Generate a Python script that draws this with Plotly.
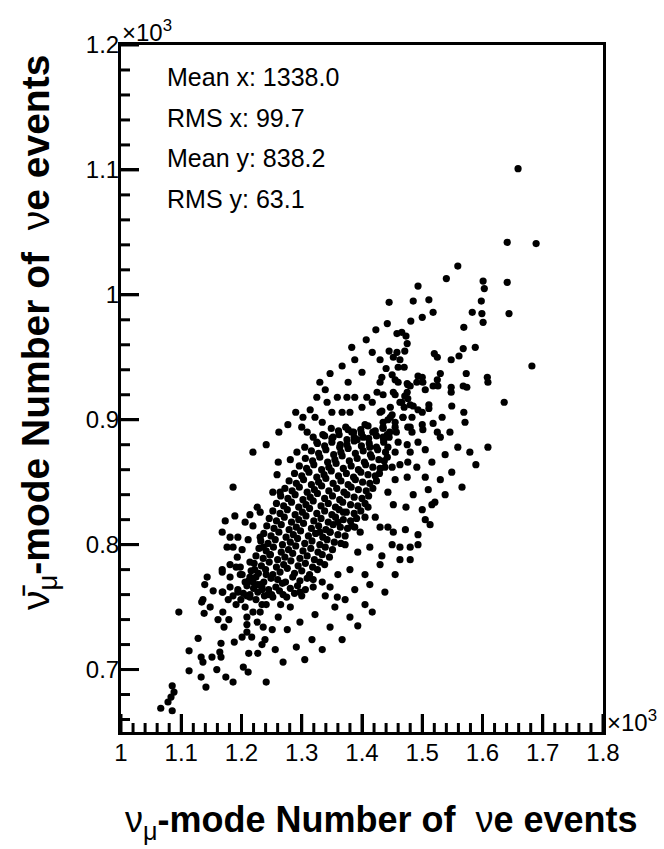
import plotly.graph_objects as go

# ---- event counts (x: nu_mu-mode, y: anti-nu_mu-mode), one tuple per toy experiment ----
core_pts = [
    (1203,761),(1214,758),(1227,762),(1238,759),(1250,760),(1263,763),(1275,758),(1288,761),(1300,759),
    (1209,767),(1220,765),(1232,768),(1245,764),(1257,766),(1268,769),(1281,765),(1293,767),(1306,764),
    (1212,771),(1224,774),(1237,770),(1249,773),(1260,772),(1273,770),(1285,774),(1297,771),(1309,773),(1319,772),
    (1216,779),(1228,777),(1240,780),(1252,776),(1264,778),(1276,781),(1288,777),(1300,779),(1313,776),(1326,780),
    (1221,785),(1233,783),(1246,786),(1258,782),(1270,784),(1282,787),(1294,783),(1306,785),(1318,782),(1330,786),(1338,784),
    (1224,791),(1236,789),(1248,792),(1260,788),(1272,790),(1285,793),(1297,789),(1309,791),(1321,788),(1334,792),(1346,790),
    (1229,797),(1241,795),(1253,798),(1266,794),(1278,796),(1290,799),(1302,795),(1315,797),(1327,794),(1339,798),(1351,796),
    (1232,803),(1244,801),(1256,804),(1268,800),(1281,802),(1293,805),(1305,801),(1317,803),(1330,800),(1342,804),(1354,802),(1365,801),
    (1237,809),(1249,807),(1262,810),(1274,806),(1286,808),(1298,811),(1311,807),(1323,809),(1335,806),(1347,810),(1360,808),(1372,807),
    (1242,815),(1254,813),(1266,816),(1279,812),(1291,814),(1303,817),(1316,813),(1328,815),(1340,812),(1352,816),(1364,814),(1376,813),(1383,815),
    (1246,821),(1258,819),(1271,822),(1283,818),(1295,820),(1307,823),(1320,819),(1332,821),(1344,818),(1356,822),(1369,820),(1381,819),(1391,821),
    (1252,827),(1264,825),(1276,828),(1289,824),(1301,826),(1313,829),(1325,825),(1338,827),(1350,824),(1362,828),(1374,826),(1387,825),(1398,827),
    (1258,833),(1270,831),(1283,834),(1295,830),(1307,832),(1319,835),(1332,831),(1344,833),(1356,830),(1368,834),(1381,832),(1393,831),(1405,833),
    (1265,839),(1277,837),(1289,840),(1302,836),(1314,838),(1326,841),(1338,837),(1351,839),(1363,836),(1375,840),(1387,838),(1400,837),(1411,839),
    (1272,845),(1284,843),(1296,846),(1309,842),(1321,844),(1333,847),(1345,843),(1358,845),(1370,842),(1382,846),(1394,844),(1407,843),(1418,845),
    (1279,851),(1291,849),(1303,852),(1316,848),(1328,850),(1340,853),(1352,849),(1365,851),(1377,848),(1389,852),(1401,850),(1413,849),(1424,851),
    (1288,857),(1300,855),(1312,858),(1325,854),(1337,856),(1349,859),(1361,855),(1374,857),(1386,854),(1398,858),(1410,856),(1422,855),(1429,857),
    (1296,863),(1308,861),(1320,864),(1333,860),(1345,862),(1357,865),(1369,861),(1382,863),(1394,860),(1406,864),(1418,862),(1430,861),
    (1306,869),(1318,867),(1330,870),(1343,866),(1355,868),(1367,871),(1379,867),(1392,869),(1404,866),(1416,870),(1428,868),(1437,867),
    (1316,875),(1328,873),(1340,876),(1353,872),(1365,874),(1377,877),(1389,873),(1402,875),(1414,872),(1426,876),(1439,874),
    (1326,881),(1338,879),(1350,882),(1363,878),(1375,880),(1387,883),(1399,879),(1412,881),(1424,878),(1436,882),
    (1338,887),(1350,885),(1362,888),(1375,884),(1387,886),(1399,889),(1411,885),(1424,887),(1436,884),(1445,886),
    (1349,893),(1361,891),(1373,894),(1386,890),(1398,892),(1410,895),(1422,891),(1435,893),(1446,890),
]

low_tail_pts = [
    (1085,687),(1088,682),(1083,678),(1078,674),(1066,669),(1085,667),(1096,746),(1113,715),(1113,699),
    (1128,725),(1133,710),(1136,706),(1133,694),(1141,686),(1151,710),(1159,700),(1164,714),(1166,710),
    (1166,721),(1174,694),(1186,690),(1188,722),(1201,726),(1203,702),(1211,698),(1212,713),(1217,726),
    (1227,713),(1241,690),(1234,720),(1239,724),(1161,740),(1179,740),(1171,734),(1169,746),(1138,745),
    (1148,750),(1136,756),(1134,754),(1153,763),(1168,762),(1139,768),(1143,774),(1168,778),(1209,742),
    (1209,736),(1209,730),(1226,738),(1236,734),
    (1181,784),(1191,782),(1198,776),(1206,770),(1214,774),(1222,780),(1227,768),(1234,764),(1241,776),
    (1244,760),(1186,759),(1194,764),(1214,760),(1224,756),(1234,752),(1199,756),(1191,752),(1178,756),
    (1206,750),(1219,746),(1231,746),(1241,752),
    (1256,716),(1269,706),(1291,718),(1305,708),(1317,724),(1334,716),(1347,734),(1367,724),(1380,742),
    (1393,735),(1405,752),(1417,746),(1276,732),(1297,738),(1261,742),(1322,744),(1355,750),(1372,756),
    (1281,750),(1265,752),(1251,732),(1339,759),(1388,764),(1413,768),(1438,762),(1455,776),(1430,784),
    (1463,788),(1480,798),(1493,808),(1450,800),(1472,812),(1505,820),(1516,832),
    (1372,800),(1393,794),(1413,798),(1433,791),(1380,780),(1360,776),(1405,776),
]

mid_pts = [
    (1241,880),(1219,874),(1186,846),(1173,819),(1189,823),(1206,818),(1219,815),(1214,824),(1226,830),
    (1231,826),(1252,842),(1264,842),(1259,856),(1261,866),(1281,868),(1292,874),(1305,878),(1325,882),
    (1168,810),(1181,806),(1194,806),(1176,798),(1186,798),(1201,796),(1193,790),(1168,780),(1181,774),
    (1201,776),(1198,782),(1214,786),(1211,804),(1231,806),(1236,798),(1247,792),(1219,770),(1234,766),
    (1181,766),(1169,762),(1194,762),(1209,759),(1252,758),(1269,760),(1297,762),(1319,766),(1334,770),
    (1347,766),(1359,758),
    (1377,930),(1430,930),(1476,928),(1491,930),(1339,924),(1325,918),(1359,918),(1375,918),(1388,918),
    (1408,918),(1425,922),(1455,920),(1475,922),(1314,908),(1342,914),(1350,906),(1367,906),(1380,906),
    (1400,910),(1417,914),(1430,906),(1447,910),(1463,914),(1480,912),(1302,902),(1322,902),(1334,898),
    (1377,892),(1383,890),(1405,896),(1418,890),(1435,898),(1447,902),(1455,898),(1468,902),(1480,894),
    (1493,882),(1300,894),(1309,890),(1319,886),(1335,888),(1352,886),(1364,880),(1392,884),(1402,886),
    (1413,878),(1435,886),(1443,878),(1460,882),(1475,880),(1480,874),(1442,870),(1455,874),(1438,862),
    (1450,862),(1463,864),(1476,866),(1491,862),(1475,854),(1455,852),(1443,842),(1485,840),(1452,832),
    (1473,830),(1410,830),(1422,822),(1430,814),(1452,810),(1443,814),(1397,810),(1388,814),(1405,822),
    (1369,826),(1360,818),(1347,810),(1330,810),
    (1277,896),(1290,906),(1262,890),
    (1505,876),(1516,866),(1538,872),(1559,878),(1579,874),(1589,864),(1549,858),(1530,852),(1510,844),
    (1521,834),(1538,840),(1500,828),(1513,816),(1493,800),(1480,788),(1463,798),(1505,854),(1566,846),
    (1609,878),
]

high_tail_pts = [
    (1493,1007),(1601,1011),(1603,1005),(1598,995),(1445,994),(1485,995),(1511,996),(1518,986),(1583,986),
    (1599,985),(1601,978),(1442,977),(1481,979),(1500,982),(1569,974),(1458,969),(1466,970),(1473,967),
    (1475,961),(1471,955),(1445,955),(1458,954),(1588,958),(1568,957),(1561,951),(1548,948),(1520,953),
    (1525,950),(1452,950),(1463,948),(1430,948),(1440,941),(1460,942),(1470,942),(1450,936),(1455,932),
    (1433,934),(1493,935),(1500,934),(1530,937),(1573,937),(1608,934),(1609,930),(1460,930),(1475,929),
    (1480,927),(1501,930),(1505,924),(1518,927),(1526,927),(1525,932),(1548,926),(1548,922),(1568,927),
    (1574,926),(1452,922),(1435,920),(1471,919),(1476,917),(1466,914),(1485,911),(1470,910),(1493,908),
    (1500,906),(1511,912),(1511,909),(1549,911),(1569,906),(1450,904),(1433,907),(1468,902),(1483,902),
    (1443,900),(1435,894),(1455,894),(1476,894),(1533,902),(1500,896),(1518,897),(1571,898),(1546,890),
    (1442,888),(1457,890),(1483,890),(1501,892),(1525,890),(1530,886),
    (1347,937),(1367,943),(1388,948),(1400,938),(1417,954),(1407,964),(1423,972),(1383,958),(1330,930),
    (1559,1023),(1540,1013),
    (1659,1101),(1641,1042),(1689,1041),(1641,1010),(1644,985),(1682,943),(1636,914),
]

stats_lines = ["Mean x: 1338.0", "RMS x: 99.7", "Mean y: 838.2", "RMS y: 63.1"]

# axes are shown in units of 10^3 events
x_range = [1.0, 1.8]
y_range = [0.65, 1.2]
SCALE = 1000.0

x_title = "ν<sub>μ</sub><b>-mode Number of \u00a0</b>ν<b>e events</b>"
y_title = "ν\u0304<sub>μ</sub><b>-mode Number of \u00a0</b>ν<b>e events</b>"

all_pts = core_pts + low_tail_pts + mid_pts + high_tail_pts
xs = [p[0] / SCALE for p in all_pts]
ys = [p[1] / SCALE for p in all_pts]

FONT = "Liberation Sans, Arial, Helvetica, sans-serif"
W, H = 664, 849
L, R, T, B = 121, 61, 45, 117
PW, PH = W - L - R, H - T - B


def paper(px, py):
    return (px - L) / PW, (H - B - py) / PH


# ROOT-style inward tick marks on the bottom and left axes (major every 0.1, minor every 0.02)
MAJOR_PX, MINOR_PX = 18, 9
x_per_px = (x_range[1] - x_range[0]) / PW
y_per_px = (y_range[1] - y_range[0]) / PH
xt_x, xt_y = [], []
for i in range(int(round((x_range[1] - x_range[0]) / 0.02)) + 1):
    v = round(x_range[0] + i * 0.02, 4)
    ln = MAJOR_PX if i % 5 == 0 else MINOR_PX
    xt_x += [v, v, None]
    xt_y += [y_range[0], y_range[0] + ln * y_per_px, None]
yt_x, yt_y = [], []
for i in range(int(round((y_range[1] - y_range[0]) / 0.02)) + 1):
    v = round(y_range[0] + 0.01 + i * 0.02, 4)
    if v > y_range[1] + 1e-9:
        break
    major = abs(v * 10 - round(v * 10)) < 1e-6
    ln = MAJOR_PX if major else MINOR_PX
    yt_x += [x_range[0], x_range[0] + ln * x_per_px, None]
    yt_y += [v, v, None]

fig = go.Figure()
fig.add_trace(go.Scatter(
    x=xs, y=ys, mode="markers",
    marker=dict(color="black", size=7.2, line=dict(width=0)),
    hoverinfo="skip", showlegend=False,
))
for tx_, ty_ in ((xt_x, xt_y), (yt_x, yt_y)):
    fig.add_trace(go.Scatter(
        x=tx_, y=ty_, mode="lines", line=dict(color="#000000", width=3),
        connectgaps=False, hoverinfo="skip", showlegend=False,
    ))

tick_font = dict(family=FONT, size=24, color="black")
fig.update_layout(
    xaxis=dict(
        range=x_range, tickmode="linear", tick0=1.0, dtick=0.1,
        showgrid=False, zeroline=False, showline=True, linecolor="black", linewidth=3,
        mirror=True, ticks="inside", ticklen=18, tickwidth=3, tickcolor="black",
        tickfont=tick_font, ticklabelstandoff=-3,
    ),
    yaxis=dict(
        range=y_range, tickmode="linear", tick0=0.7, dtick=0.1,
        showgrid=False, zeroline=False, showline=True, linecolor="black", linewidth=3,
        mirror=True, ticks="inside", ticklen=18, tickwidth=3, tickcolor="black",
        tickfont=tick_font, ticklabelstandoff=-6,
    ),
)

annotations = []
for i, line in enumerate(stats_lines):
    ax, ay = paper(165, 77 + i * 40.7)
    annotations.append(dict(
        text=line, x=ax, y=ay, xref="paper", yref="paper", xanchor="left", yanchor="middle",
        showarrow=False, font=dict(family=FONT, size=25, color="black"),
    ))

# exponent markers of both axes
ex, ey = paper(120, 31)
annotations.append(dict(
    text="×10<sup>3</sup>", x=ex, y=ey, xref="paper", yref="paper", xanchor="left",
    yanchor="middle", showarrow=False, font=dict(family=FONT, size=24, color="black"),
))
ex, ey = paper(605, 721)
annotations.append(dict(
    text="×10<sup>3</sup>", x=ex, y=ey, xref="paper", yref="paper", xanchor="left",
    yanchor="middle", showarrow=False, font=dict(family=FONT, size=24, color="black"),
))

# axis titles
tx, ty = paper(381, 822)
annotations.append(dict(
    text=x_title, x=tx, y=ty, xref="paper", yref="paper", xanchor="center", yanchor="middle",
    showarrow=False, font=dict(family=FONT, size=36, color="black"),
))
tx, ty = paper(38, 333)
annotations.append(dict(
    text=y_title, x=tx, y=ty, xref="paper", yref="paper", xanchor="center", yanchor="middle",
    textangle=-90, showarrow=False, font=dict(family=FONT, size=39, color="black"),
))

fig.update_layout(
    width=W, height=H, margin=dict(l=L, r=R, t=T, b=B, pad=0),
    paper_bgcolor="white", plot_bgcolor="white",
    annotations=annotations, showlegend=False,
)

fig.write_html("out.html")
